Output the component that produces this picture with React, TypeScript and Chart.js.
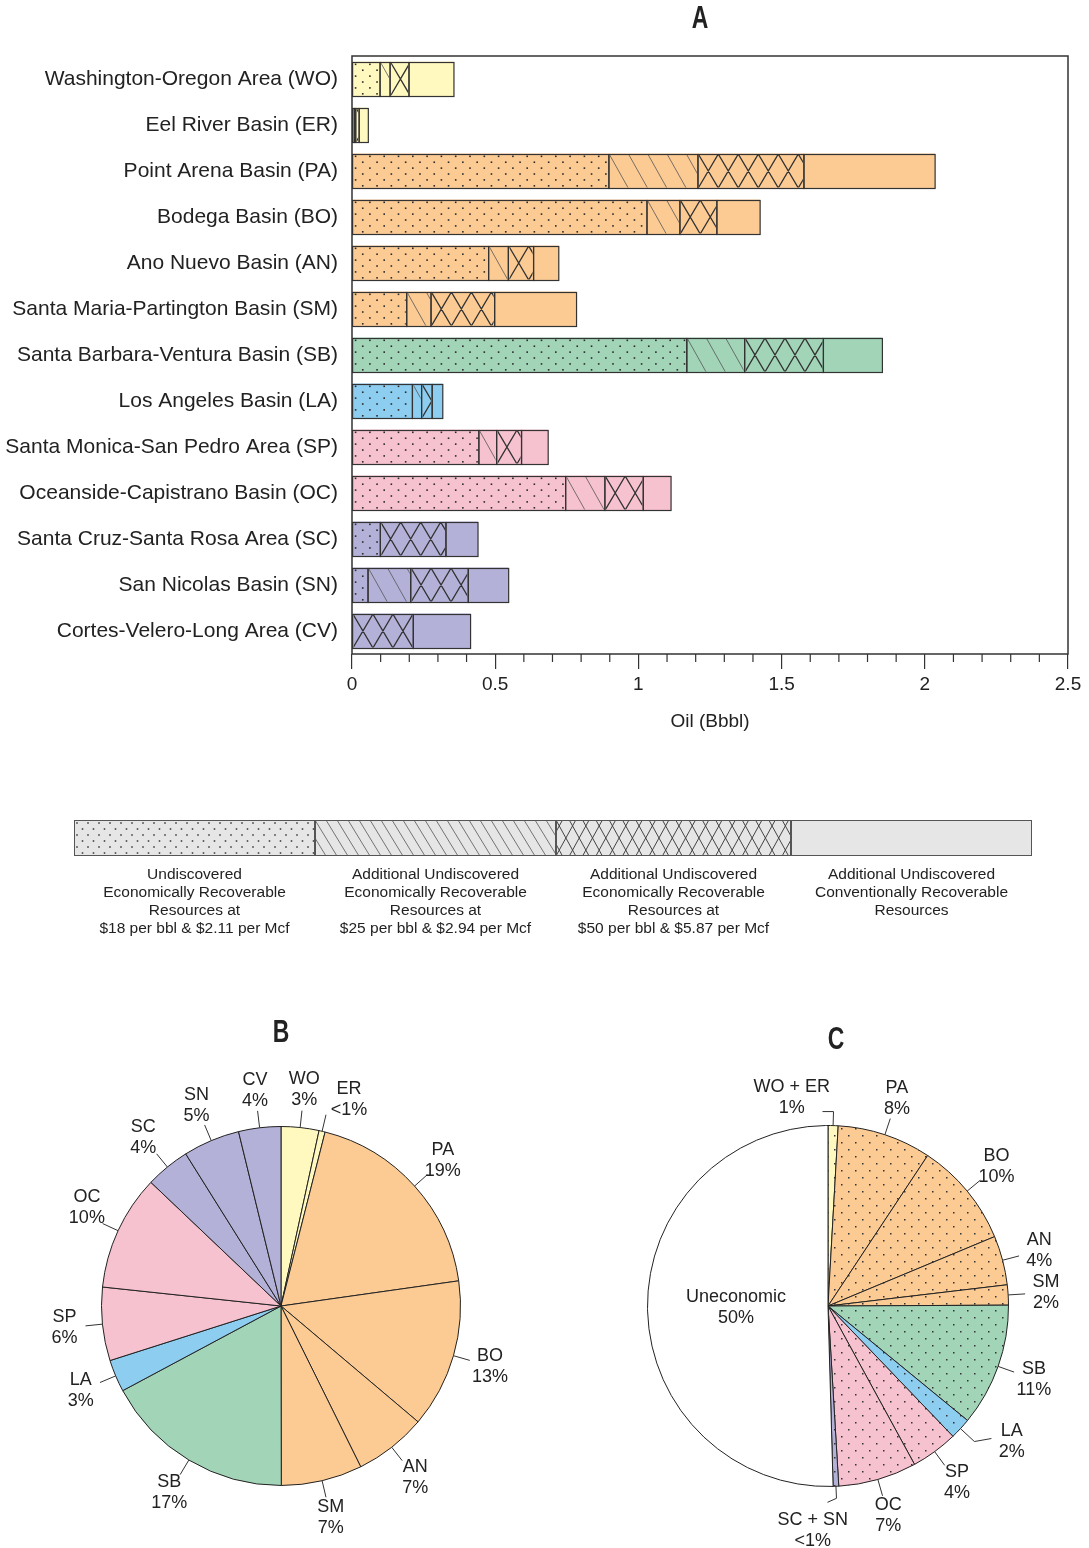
import { useEffect, useRef } from "react";
import { Chart, registerables } from "chart.js";

Chart.register(...registerables);

// ---------- DATA ----------
const basins = [
  "Washington-Oregon Area (WO)",
  "Eel River Basin (ER)",
  "Point Arena Basin (PA)",
  "Bodega Basin (BO)",
  "Ano Nuevo Basin (AN)",
  "Santa Maria-Partington Basin (SM)",
  "Santa Barbara-Ventura Basin (SB)",
  "Los Angeles Basin (LA)",
  "Santa Monica-San Pedro Area (SP)",
  "Oceanside-Capistrano Basin (OC)",
  "Santa Cruz-Santa Rosa Area (SC)",
  "San Nicolas Basin (SN)",
  "Cortes-Velero-Long Area (CV)",
];
// Oil (Bbbl) per resource class
const econAt18 = [0.098, 0.008, 0.897, 1.03, 0.477, 0.191, 1.169, 0.211, 0.443, 0.746, 0.099, 0.056, 0.0];
const econAt25 = [0.035, 0.005, 0.311, 0.115, 0.069, 0.085, 0.202, 0.032, 0.062, 0.137, 0.0, 0.149, 0.0];
const econAt50 = [0.066, 0.012, 0.37, 0.129, 0.088, 0.222, 0.275, 0.037, 0.087, 0.134, 0.229, 0.201, 0.214];
const conventional = [0.157, 0.032, 0.458, 0.151, 0.088, 0.286, 0.206, 0.037, 0.093, 0.097, 0.112, 0.141, 0.2];

const xAxisMin = 0;
const xAxisMax = 2.5;
const xMajorStep = 0.5;
const xMinorStep = 0.1;

const legendTexts = [
  ["Undiscovered", "Economically Recoverable", "Resources at", "$18 per bbl & $2.11 per Mcf"],
  ["Additional Undiscovered", "Economically Recoverable", "Resources at", "$25 per bbl & $2.94 per Mcf"],
  ["Additional Undiscovered", "Economically Recoverable", "Resources at", "$50 per bbl & $5.87 per Mcf"],
  ["Additional Undiscovered", "Conventionally Recoverable", "Resources"],
];

// Pie B: share of total conventionally recoverable oil (%)
const pieBLabels = ["WO", "ER", "PA", "BO", "AN", "SM", "SB", "LA", "SP", "OC", "SC", "SN", "CV"];
const pieBValues = [3.4, 0.55, 18.8, 13.4, 6.5, 7.3, 17.2, 2.9, 6.6, 10.4, 4.0, 5.1, 3.8];
const pieBPctText = ["3%", "<1%", "19%", "13%", "7%", "7%", "17%", "3%", "6%", "10%", "4%", "5%", "4%"];

// Pie C: economically recoverable at $18 vs uneconomic (%)
const pieCLabels = ["WO + ER", "PA", "BO", "AN", "SM", "SB", "LA", "SP", "OC", "SC + SN", "Uneconomic"];
const pieCValues = [0.9, 8.4, 9.4, 4.4, 1.8, 11.0, 1.9, 4.2, 7.0, 0.5, 50.4];
const pieCPctText = ["1%", "8%", "10%", "4%", "2%", "11%", "2%", "4%", "7%", "<1%", "50%"];

// ---------- STYLE ----------
const FONT = '"Liberation Sans", Arial, Helvetica, sans-serif';
const TEXT = "#222";
const YELLOW = "#FFF8BF";
const ORANGE = "#FCCB94";
const GREEN = "#A2D4B8";
const BLUE = "#8CCDF0";
const PINK = "#F7C2D0";
const PURPLE = "#B4B1D8";
const basinColors = [YELLOW, YELLOW, ORANGE, ORANGE, ORANGE, ORANGE, GREEN, BLUE, PINK, PINK, PURPLE, PURPLE, PURPLE];
const pieBColors = basinColors;
const pieCColors = [YELLOW, ORANGE, ORANGE, ORANGE, ORANGE, GREEN, BLUE, PINK, PINK, PURPLE, "#FFFFFF"];
const segmentKinds = ["dots", "hatch", "cross", "solid"];
const BAR_BORDER = "#333";

const barPatternStyle: any = {
  dotColor: "#2a2a2a", dotSize: 1.6, dotX0: 3, dotY0: 2.8, dotRow: 5.9, dotCol: 14.3,
  hatch: { spacing: 19.3, runPerPx: 0.56, color: "#555", width: 0.8 },
  cross: { spacing: 20, runPerPx: 0.59, color: "#333", width: 1.3 },
};
const legendPatternStyle: any = {
  dotColor: "#333", dotSize: 1.5, dotX0: 3, dotY0: 3, dotRow: 6, dotCol: 11,
  hatch: { spacing: 11, runPerPx: 0.61, color: "#555", width: 0.8 },
  cross: { spacing: 13.3, runPerPx: 0.55, color: "#444", width: 1 },
};

function drawTitle(ctx: CanvasRenderingContext2D, text: string, x: number, y: number) {
  ctx.save();
  ctx.translate(x, y);
  ctx.scale(0.74, 1);
  ctx.font = `bold 31px ${FONT}`;
  ctx.fillStyle = TEXT;
  ctx.textAlign = "center";
  ctx.textBaseline = "middle";
  ctx.fillText(text, 0, 0);
  ctx.restore();
}

function drawPattern(ctx: CanvasRenderingContext2D, kind: string, l: number, t: number, w: number, h: number, s: any) {
  ctx.save();
  ctx.beginPath();
  ctx.rect(l + 1, t + 1, w - 2, h - 2);
  ctx.clip();
  if (kind === "dots") {
    ctx.fillStyle = s.dotColor;
    let row = 0;
    for (let yy = t + s.dotY0; yy < t + h; yy += s.dotRow, row++) {
      const off = row % 2 ? s.dotCol / 2 : 0;
      for (let xx = l + s.dotX0 + off; xx < l + w; xx += s.dotCol) {
        ctx.fillRect(xx - s.dotSize / 2, yy - s.dotSize / 2, s.dotSize, s.dotSize);
      }
    }
  } else if (kind === "hatch" || kind === "cross") {
    const cfg = s[kind];
    const run = h * cfg.runPerPx;
    const sp = cfg.spacing;
    ctx.strokeStyle = cfg.color;
    ctx.lineWidth = cfg.width;
    ctx.beginPath();
    for (let x0 = l - Math.ceil(run / sp + 1) * sp; x0 < l + w + run; x0 += sp) {
      ctx.moveTo(x0, t);
      ctx.lineTo(x0 + run, t + h);
      if (kind === "cross") {
        ctx.moveTo(x0 + run, t);
        ctx.lineTo(x0, t + h);
      }
    }
    ctx.stroke();
  }
  ctx.restore();
}

function makeDotPattern(color: string) {
  const c = document.createElement("canvas");
  c.width = 14;
  c.height = 14;
  const g = c.getContext("2d")!;
  g.fillStyle = color;
  g.fillRect(0, 0, 14, 14);
  g.fillStyle = "#333";
  g.fillRect(2, 2, 1.5, 1.5);
  g.fillRect(9, 9, 1.5, 1.5);
  return g.createPattern(c, "repeat")!;
}

const LEGEND_LEFT = 74;
const LEGEND_TOP = 820;
const LEGEND_H = 36;
const legendWidths = [241, 241, 235, 241];
const LEGEND_TEXT_Y = 875;

const chartADecor = {
  id: "chartADecor",
  afterDatasetsDraw(chart: any) {
    const ctx: CanvasRenderingContext2D = chart.ctx;
    chart.data.datasets.forEach((_ds: any, di: number) => {
      const kind = segmentKinds[di];
      const meta = chart.getDatasetMeta(di);
      meta.data.forEach((el: any) => {
        const p = el.getProps(["x", "y", "base", "height"], true);
        const l = Math.min(p.x, p.base);
        const r = Math.max(p.x, p.base);
        const t = p.y - p.height / 2;
        if (r - l < 0.5) return;
        if (kind !== "solid") drawPattern(ctx, kind, l, t, r - l, p.height, barPatternStyle);
        ctx.save();
        ctx.strokeStyle = BAR_BORDER;
        ctx.lineWidth = 1.2;
        ctx.strokeRect(l, Math.round(t) + 0.5, r - l, Math.round(p.height) - 1);
        ctx.restore();
      });
    });
    const { left, top, right, bottom } = chart.chartArea;
    ctx.save();
    ctx.strokeStyle = "#333";
    ctx.lineWidth = 1.5;
    ctx.strokeRect(left, top, right - left, bottom - top);
    // minor ticks
    const xs = chart.scales.x;
    ctx.lineWidth = 1.2;
    ctx.beginPath();
    const nMinor = Math.round((xAxisMax - xAxisMin) / xMinorStep);
    const perMajor = Math.round(xMajorStep / xMinorStep);
    for (let i = 1; i < nMinor; i++) {
      if (i % perMajor === 0) continue;
      const px = xs.getPixelForValue(xAxisMin + i * xMinorStep);
      ctx.moveTo(px, bottom);
      ctx.lineTo(px, bottom + 8);
    }
    ctx.stroke();
    ctx.restore();
  },
  afterDraw(chart: any) {
    const ctx: CanvasRenderingContext2D = chart.ctx;
    const { left, right } = chart.chartArea;
    drawTitle(ctx, "A", 700, 19);
    ctx.save();
    ctx.fillStyle = TEXT;
    ctx.textAlign = "center";
    ctx.textBaseline = "middle";
    ctx.font = `19px ${FONT}`;
    ctx.fillText("Oil (Bbbl)", (left + right) / 2, 722);
    // legend
    let x = LEGEND_LEFT;
    segmentKinds.forEach((kind, i) => {
      const w = legendWidths[i];
      ctx.fillStyle = "#E6E6E6";
      ctx.fillRect(x, LEGEND_TOP, w, LEGEND_H);
      if (kind !== "solid") drawPattern(ctx, kind, x, LEGEND_TOP, w, LEGEND_H, legendPatternStyle);
      ctx.strokeStyle = "#555";
      ctx.lineWidth = 1;
      ctx.strokeRect(x + 0.5, LEGEND_TOP + 0.5, w - 1, LEGEND_H - 1);
      ctx.fillStyle = TEXT;
      ctx.font = `15.5px ${FONT}`;
      ctx.textAlign = "center";
      ctx.textBaseline = "middle";
      legendTexts[i].forEach((line, j) => ctx.fillText(line, x + w / 2, LEGEND_TEXT_Y + j * 18));
      x += w;
    });
    ctx.restore();
  },
};

function pieLabelPlugin(title: string, titleX: number, titleY: number, names: string[], pcts: string[], overrides: any) {
  return {
    id: "pieLabels",
    afterDraw(chart: any) {
      const ctx: CanvasRenderingContext2D = chart.ctx;
      const meta = chart.getDatasetMeta(0);
      drawTitle(ctx, title, titleX, titleY);
      ctx.save();
      ctx.fillStyle = TEXT;
      ctx.textAlign = "center";
      ctx.textBaseline = "middle";
      ctx.font = `18px ${FONT}`;
      ctx.strokeStyle = "#333";
      ctx.lineWidth = 1;
      meta.data.forEach((arc: any, i: number) => {
        const p = arc.getProps(["x", "y", "startAngle", "endAngle", "outerRadius"], true);
        const mid = (p.startAngle + p.endAngle) / 2;
        const o = overrides[names[i]] || {};
        const R = p.outerRadius;
        const pt = (ang: number, rr: number) => [p.x + Math.cos(ang) * rr, p.y + Math.sin(ang) * rr];
        let lx: number, ly: number;
        if (o.inside) {
          [lx, ly] = pt(mid, R * o.inside);
        } else {
          const la = mid + ((o.shift || 0) * Math.PI) / 180;
          [lx, ly] = pt(la, R + (o.dist || 38));
          const [x1, y1] = pt(mid, R);
          const [x2, y2] = pt(mid, R + (o.lead || 17));
          ctx.beginPath();
          ctx.moveTo(x1, y1);
          ctx.lineTo(x2, y2);
          if (o.tail) ctx.lineTo(x2 + o.tail, y2 + (o.tailDy || 0));
          ctx.stroke();
        }
        ctx.fillStyle = TEXT;
        ctx.fillText(names[i], lx, ly - 10.5);
        ctx.fillText(pcts[i], lx, ly + 10.5);
      });
      ctx.restore();
    },
  };
}

const pieBOverrides = { ER: { shift: 5 }, OC: { shift: 2 } };
const pieCOverrides = {
  "WO + ER": { shift: -11.5, dist: 31, lead: 14, tail: -11 },
  LA: { shift: -6.3, dist: 48, lead: 19, tail: 17, tailDy: -3 },
  "SC + SN": { shift: 6.4, dist: 45, lead: 12, tail: -9, tailDy: 4 },
  Uneconomic: { inside: 0.51 },
};

export default function App() {
  const aRef = useRef<HTMLCanvasElement>(null);
  const bRef = useRef<HTMLCanvasElement>(null);
  const cRef = useRef<HTMLCanvasElement>(null);

  useEffect(() => {
    document.body.style.margin = "0";
    const charts: Chart[] = [];
    const seriesArr = [econAt18, econAt25, econAt50, conventional];

    charts.push(
      new Chart(aRef.current!, {
        type: "bar",
        data: {
          labels: basins,
          datasets: seriesArr.map((d, i) => ({
            label: segmentKinds[i],
            data: d,
            backgroundColor: basinColors,
            borderWidth: 0,
            barPercentage: 0.76,
            categoryPercentage: 1,
          })),
        },
        options: {
          indexAxis: "y",
          responsive: false,
          animation: false,
          events: [],
          layout: { padding: { top: 56, right: 21, left: 0, bottom: 200 } },
          scales: {
            x: {
              stacked: true,
              min: xAxisMin,
              max: xAxisMax,
              ticks: {
                stepSize: xMajorStep,
                font: { size: 19, family: FONT },
                color: TEXT,
                padding: 4,
                callback: (v: any) => String(Number(v)),
              },
              grid: { display: true, drawOnChartArea: false, drawTicks: true, tickLength: 15, color: "#333", lineWidth: 1.2 },
              border: { display: false },
              afterFit: (s: any) => { s.height = 106; },
            },
            y: {
              stacked: true,
              ticks: { font: { size: 21, family: FONT }, color: TEXT, padding: 14, autoSkip: false },
              grid: { display: false, drawTicks: false },
              border: { display: false },
              afterFit: (s: any) => { s.width = 352; },
            },
          },
          plugins: { legend: { display: false }, tooltip: { enabled: false }, title: { display: false } },
        } as any,
        plugins: [chartADecor],
      })
    );

    charts.push(
      new Chart(bRef.current!, {
        type: "pie",
        data: {
          labels: pieBLabels,
          datasets: [{ data: pieBValues, backgroundColor: pieBColors, borderColor: "#222", borderWidth: 1, hoverOffset: 0, offset: 0 }],
        },
        options: {
          responsive: false,
          animation: false,
          events: [],
          layout: { padding: { left: 101, right: 84, top: 126, bottom: 62 } },
          plugins: { legend: { display: false }, tooltip: { enabled: false } },
        } as any,
        plugins: [pieLabelPlugin("B", 281, 33, pieBLabels, pieBPctText, pieBOverrides)],
      })
    );

    charts.push(
      new Chart(cRef.current!, {
        type: "pie",
        data: {
          labels: pieCLabels,
          datasets: [{
            data: pieCValues,
            backgroundColor: pieCColors.map((c, i) => (pieCLabels[i] === "Uneconomic" ? c : makeDotPattern(c))),
            borderColor: "#222",
            borderWidth: 1,
            hoverOffset: 0,
            offset: 0,
          }],
        },
        options: {
          responsive: false,
          animation: false,
          events: [],
          layout: { padding: { left: 102, right: 80, top: 125, bottom: 61 } },
          plugins: { legend: { display: false }, tooltip: { enabled: false } },
        } as any,
        plugins: [pieLabelPlugin("C", 291, 40, pieCLabels, pieCPctText, pieCOverrides)],
      })
    );

    return () => charts.forEach((c) => c.destroy());
  }, []);

  return (
    <div style={{ position: "relative", width: 1089, height: 1548, background: "#fff", overflow: "hidden" }}>
      <canvas ref={aRef} width={1089} height={960} style={{ position: "absolute", left: 0, top: 0, width: 1089, height: 960 }} />
      <canvas ref={bRef} width={545} height={548} style={{ position: "absolute", left: 0, top: 1000, width: 545, height: 548 }} />
      <canvas ref={cRef} width={544} height={548} style={{ position: "absolute", left: 545, top: 1000, width: 544, height: 548 }} />
    </div>
  );
}
